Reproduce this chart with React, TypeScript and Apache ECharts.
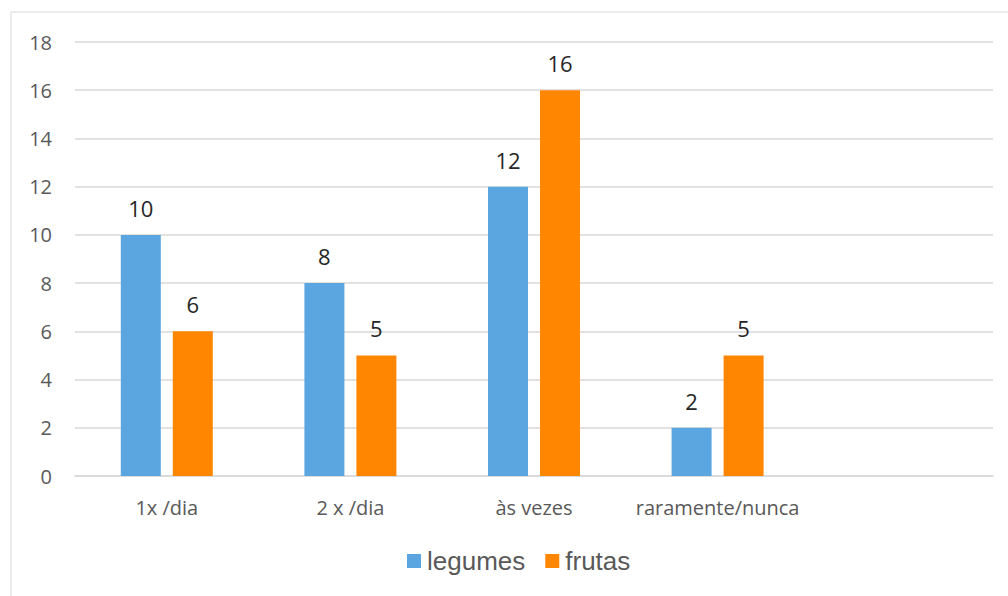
import React, { useEffect, useRef } from "react";
import * as echarts from "echarts";

const categories = ["1x /dia", "2 x /dia", "às vezes", "raramente/nunca", ""];
const legumes = [10, 8, 12, 2, null];
const frutas = [6, 5, 16, 5, null];
const seriesNames = ["legumes", "frutas"];

export default function App() {
  const ref = useRef<HTMLDivElement>(null);
  useEffect(() => {
    const chart = echarts.init(ref.current!, null, { renderer: "svg" });
    const labelStyle = {
      show: true,
      position: "top",
      distance: 16,
      color: "#262626",
      fontSize: 22,
      fontFamily: "Open Sans",
    };
    chart.setOption({
      animation: false,
      backgroundColor: "#fff",
      graphic: [
        { type: "line", shape: { x1: 11, y1: 12, x2: 1008, y2: 12 }, style: { stroke: "#e6e6e6", lineWidth: 1.5 } },
        { type: "line", shape: { x1: 11, y1: 12, x2: 11, y2: 596 }, style: { stroke: "#e6e6e6", lineWidth: 1.5 } },
      ],
      legend: {
        bottom: 17,
        left: 402,
        itemWidth: 14,
        itemHeight: 14,
        itemGap: 20,
        icon: "rect",
        textStyle: { fontSize: 26, color: "#595959", fontFamily: "Liberation Sans", padding: [0, 0, 0, 1] },
        data: seriesNames,
      },
      grid: { left: 75, right: 15, top: 42, bottom: 120, containLabel: false },
      xAxis: {
        type: "category",
        data: categories,
        axisLine: { show: true, lineStyle: { color: "#d9d9d9", width: 1.5 } },
        axisTick: { show: false },
        axisLabel: { interval: 0, hideOverlap: false, color: "#595959", fontSize: 20, fontFamily: "Open Sans", margin: 21 },
      },
      yAxis: {
        type: "value",
        min: 0,
        max: 18,
        interval: 2,
        axisLine: { show: false },
        axisTick: { show: false },
        splitLine: { lineStyle: { color: "#d9d9d9", width: 1.5 } },
        axisLabel: { color: "#595959", fontSize: 20, fontFamily: "Open Sans", margin: 23 },
      },
      series: [
        {
          name: seriesNames[0],
          type: "bar",
          data: legumes,
          barWidth: 40,
          barGap: "30%",
          itemStyle: { color: "#5BA6E0" },
          label: labelStyle,
        },
        {
          name: seriesNames[1],
          type: "bar",
          data: frutas,
          barWidth: 40,
          itemStyle: { color: "#FF8600" },
          label: labelStyle,
        },
      ],
    });
    return () => chart.dispose();
  }, []);
  return (
    <div
      ref={ref}
      style={{ position: "fixed", left: 0, top: 0, width: 1008, height: 596 }}
    />
  );
}
